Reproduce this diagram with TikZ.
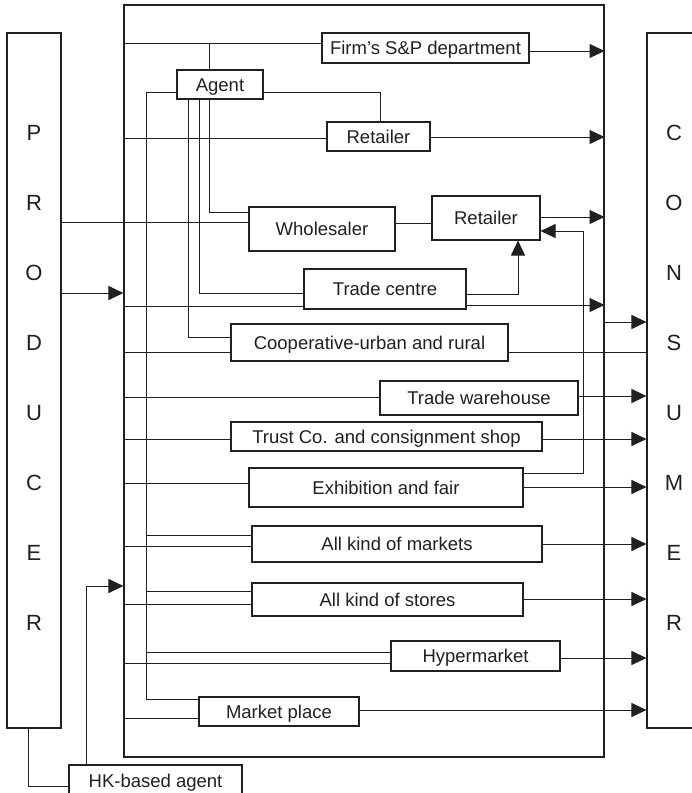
\documentclass[tikz,border=0pt]{standalone}
\usepackage{fontspec}
\setmainfont{Liberation Sans}
\usepackage{tikz}
\usetikzlibrary{arrows.meta, positioning, calc}
\definecolor{C_INK}{HTML}{231F20}

\begin{document}
\begin{tikzpicture}[
  x=1pt, y=-1pt,
  line width=1pt, color=C_INK,
  frame/.style={draw, line width=1.1pt, inner sep=0pt, minimum width=480pt, minimum height=752pt},
  chan/.style={draw, line width=1.1pt, fill=white, inner sep=0pt,
               font=\fontsize{18.5}{22}\selectfont, text height=13.2pt, text depth=0pt},
  side/.style={draw, line width=1.1pt, inner sep=0pt, minimum width=54pt, minimum height=695pt},
  letter/.style={font=\fontsize{22}{26}\selectfont, inner sep=0pt},
  link/.style={line width=1pt},
  arr/.style={-{Triangle[length=15pt, width=14pt]}, line width=1pt},
]
\useasboundingbox (0,0) rectangle (692,793);

%% Frame, producer and consumer
\node[frame] (bigbox) at (364,381) {};
\node[side] (producer) at (34,380.5) {};
\node[side] (consumer) at (674,380.5) {};
\foreach \ch [count=\i] in {P,R,O,D,U,C,E,R}
  \node[letter] (prod\i) at (34,{133+70*(\i-1)}) {\ch};
\foreach \ch [count=\i] in {C,O,N,S,U,M,E,R}
  \node[letter] (cons\i) at (674,{133+70*(\i-1)}) {\ch};

%% Channels
\node[chan, minimum width=207pt, minimum height=30pt] (firm)    at (425.5,48)   {Firm’s S\&P department};
\node[chan, minimum width=86pt,  minimum height=29pt] (agent)   at (220,84.5)   {Agent};
\node[chan, minimum width=103pt, minimum height=29pt] (ret1)    at (378.5,136.5){Retailer};
\node[chan, minimum width=146pt, minimum height=44pt] (whole)   at (322,229)    {Wholesaler};
\node[chan, minimum width=108pt, minimum height=44pt] (ret2)    at (486,218)    {Retailer};
\node[chan, minimum width=162pt, minimum height=40pt] (trade)   at (385,289)    {Trade centre};
\node[chan, minimum width=277pt, minimum height=37pt] (coop)    at (369.5,342.5){Cooperative-urban and rural};
\node[chan, minimum width=198pt, minimum height=34pt] (ware)    at (479,398)    {Trade warehouse};
\node[chan, minimum width=311pt, minimum height=29pt] (trust)   at (386.5,436.5){Trust Co. and consignment shop};
\node[chan, minimum width=274pt, minimum height=39pt] (expo)    at (386,487.5)  {Exhibition and fair};
\node[chan, minimum width=290pt, minimum height=36pt] (markets) at (397,544)    {All kind of markets};
\node[chan, minimum width=271pt, minimum height=33pt] (stores)  at (387.5,599.5){All kind of stores};
\node[chan, minimum width=169pt, minimum height=30pt] (hyper)   at (475.5,656)  {Hypermarket};
\node[chan, minimum width=160pt, minimum height=29pt] (mplace)  at (279,711.5)  {Market place};
\node[chan, minimum width=173pt, minimum height=32pt] (hk)      at (155.5,781)  {HK-based agent};

%% Agent branches
\draw[link] (bigbox.west |- 0,43) -- (firm.west |- 0,43);
\draw[link] (agent.north -| 209,0) -- (209,43);
\draw[link] (agent.east |- 0,92) -| (ret1.north -| 380,0);
\draw[link] (agent.south -| 209,0) |- (whole.west |- 0,212);
\draw[link] (agent.south -| 199,0) |- (trade.west |- 0,293);
\draw[link] (agent.south -| 188,0) |- (coop.west |- 0,337);
\draw[link] (agent.west |- 0,92) -| (146,699) -- (mplace.west |- 0,699);
\draw[link] (146,535) -- (markets.west |- 0,535);
\draw[link] (146,591) -- (stores.west |- 0,591);
\draw[link] (146,652) -- (hyper.west |- 0,652);

%% Producer links
\draw[link] (producer.east |- 0,222) -- (whole.west |- 0,222);
\draw[arr]  (producer.east |- 0,293) -- (bigbox.west |- 0,293);
\draw[link] (producer.south -| 28,0) |- (hk.west |- 0,786);
\draw[arr]  (hk.north -| 86,0) |- (bigbox.west |- 0,586);

%% From frame into channels
\draw[link] (bigbox.west |- 0,138) -- (ret1.west |- 0,138);
\draw[link] (bigbox.west |- 0,306) -- (trade.west |- 0,306);
\draw[link] (bigbox.west |- 0,352) -- (coop.west |- 0,352);
\draw[link] (bigbox.west |- 0,397) -- (ware.west |- 0,397);
\draw[link] (bigbox.west |- 0,439) -- (trust.west |- 0,439);
\draw[link] (bigbox.west |- 0,483) -- (expo.west |- 0,483);
\draw[link] (bigbox.west |- 0,546) -- (markets.west |- 0,546);
\draw[link] (bigbox.west |- 0,604) -- (stores.west |- 0,604);
\draw[link] (bigbox.west |- 0,663) -- (hyper.west |- 0,663);
\draw[link] (bigbox.west |- 0,718) -- (mplace.west |- 0,718);

%% Between channels
\draw[link] (whole.east |- 0,223) -- (ret2.west |- 0,223);
\draw[arr]  (trade.east |- 0,294) -| (ret2.south -| 518,0);
\draw[arr]  (expo.east |- 0,473) -| (583,231) -- (ret2.east |- 0,231);

%% Out to the frame
\draw[arr] (firm.east |- 0,51)   -- (bigbox.east |- 0,51);
\draw[arr] (ret1.east |- 0,137)  -- (bigbox.east |- 0,137);
\draw[arr] (ret2.east |- 0,217)  -- (bigbox.east |- 0,217);
\draw[arr] (trade.east |- 0,305) -- (bigbox.east |- 0,305);

%% Out to the consumer
\draw[arr]  (bigbox.east |- 0,322)  -- (consumer.west |- 0,322);
\draw[link] (coop.east |- 0,352)    -- (consumer.west |- 0,352);
\draw[arr]  (ware.east |- 0,396)    -- (consumer.west |- 0,396);
\draw[arr]  (trust.east |- 0,439)   -- (consumer.west |- 0,439);
\draw[arr]  (expo.east |- 0,487)    -- (consumer.west |- 0,487);
\draw[arr]  (markets.east |- 0,544) -- (consumer.west |- 0,544);
\draw[arr]  (stores.east |- 0,599)  -- (consumer.west |- 0,599);
\draw[arr]  (hyper.east |- 0,658)   -- (consumer.west |- 0,658);
\draw[arr]  (mplace.east |- 0,710)  -- (consumer.west |- 0,710);

\end{tikzpicture}
\end{document}
